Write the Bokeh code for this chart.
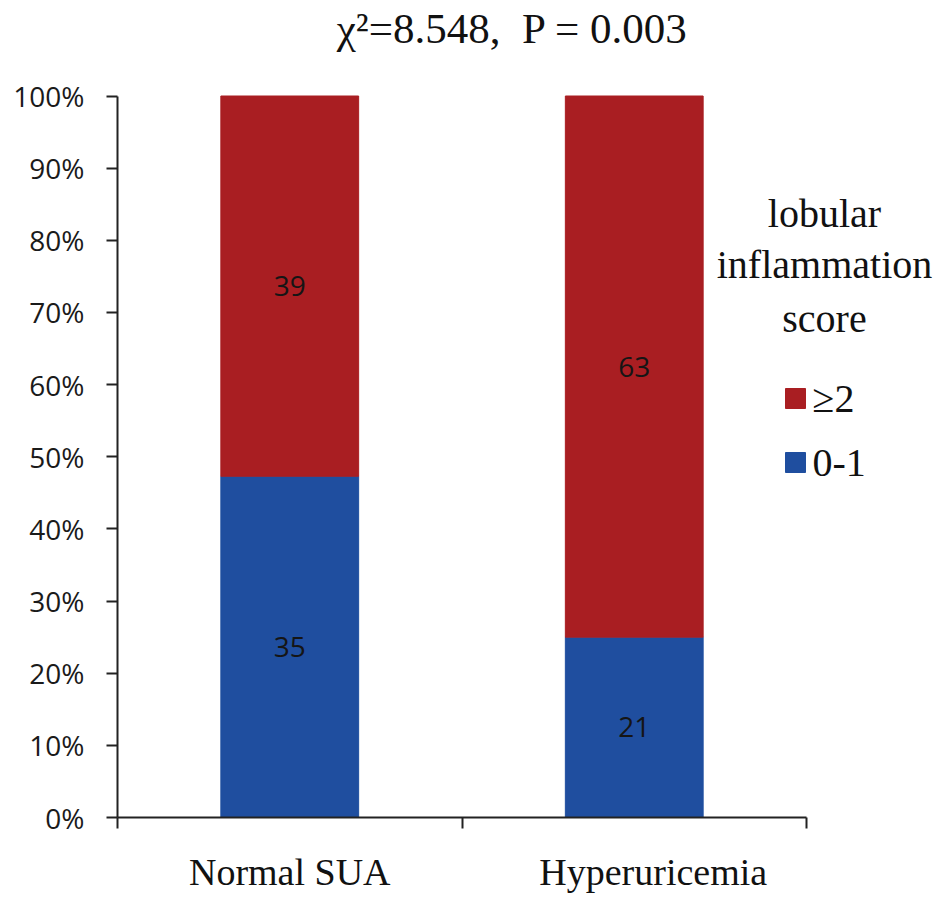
from bokeh.plotting import figure
from bokeh.models import ColumnDataSource, Range1d, FixedTicker, Label
from bokeh.core.properties import value
from bokeh.embed import file_html
from bokeh.resources import INLINE

# ---- data ----
groups = ["Normal SUA", "Hyperuricemia"]
score_low = [35, 21]     # lobular inflammation score 0-1
score_high = [39, 63]    # lobular inflammation score >=2
legend_labels = ["\u22652", "0-1"]
legend_title = ["lobular", "inflammation", "score"]
y_ticks = [0.0, 0.1, 0.2, 0.3, 0.4, 0.5, 0.6, 0.7, 0.8, 0.9, 1.0]
y_tick_labels = ["0%", "10%", "20%", "30%", "40%", "50%", "60%", "70%", "80%", "90%", "100%"]
title_text = "\u03c7\u00b2=8.548,\u00a0\u00a0P = 0.003"

RED = "#A91E22"
BLUE = "#1F4E9F"
SERIF = "Liberation Serif"
SANS = "Open Sans"

totals = [a + b for a, b in zip(score_low, score_high)]
low_frac = [a / t for a, t in zip(score_low, totals)]
high_frac = [b / t for b, t in zip(score_high, totals)]
xs = [i + 0.5 for i in range(len(groups))]

src = ColumnDataSource(dict(x=xs, low=low_frac, high=high_frac))

W, H = 945, 908
FL, FB = 117, 817          # frame left / frame bottom (px)
PX_X, PX_Y = 344.5, 721.5  # px per data unit
LABEL_SHIFT_PX = [0, 19]   # horizontal offset of category labels (px), as in original
p = figure(width=W, height=H, output_backend="svg", toolbar_location=None,
           x_range=Range1d(0, (W - FL) / PX_X), y_range=Range1d(0, FB / PX_Y))
p.min_border = 0
p.min_border_left = FL
p.min_border_right = 0
p.min_border_top = 0
p.min_border_bottom = H - FB
p.outline_line_color = None
p.xgrid.visible = False
p.ygrid.visible = False
p.background_fill_color = "white"
p.border_fill_color = "white"

p.vbar_stack(["low", "high"], x="x", width=0.4, source=src,
             fill_color=[BLUE, RED], line_color=[BLUE, RED], line_width=1)

# bar value labels at segment midpoints
lab_x, lab_y, lab_t = [], [], []
for x, lo, hi, nl, nh in zip(xs, low_frac, high_frac, score_low, score_high):
    lab_x += [x, x]
    lab_y += [lo / 2, lo + hi / 2]
    lab_t += [str(nl), str(nh)]
p.text(x=lab_x, y=lab_y, text=lab_t, text_align="center", text_baseline="middle",
       text_font=value(SANS), text_font_size="28px", text_color="#151515")

# axes
label_ticks = [x + s / PX_X for x, s in zip(xs, LABEL_SHIFT_PX)]
xa = p.xaxis[0]
xa.bounds = (0, 2)
xa.ticker = FixedTicker(ticks=label_ticks, minor_ticks=[0, 1, 2])
xa.major_label_overrides = {t: g for t, g in zip(label_ticks, groups)}
xa.major_tick_out = 0
xa.major_tick_in = 0
xa.minor_tick_out = 11
xa.minor_tick_in = 0
xa.minor_tick_line_width = 2
xa.minor_tick_line_color = "#222222"
xa.axis_line_width = 2
xa.axis_line_color = "#222222"
xa.major_label_text_font = SERIF
xa.major_label_text_font_size = "38px"
xa.major_label_text_color = "#111111"
xa.major_label_standoff = 22

ya = p.yaxis[0]
ya.bounds = (0, 1)
ya.ticker = FixedTicker(ticks=y_ticks, minor_ticks=[])
ya.major_label_overrides = {t: l for t, l in zip(y_ticks, y_tick_labels)}
ya.major_tick_out = 11
ya.major_tick_in = 0
ya.major_tick_line_width = 2
ya.major_tick_line_color = "#222222"
ya.axis_line_width = 2
ya.axis_line_color = "#222222"
ya.major_label_text_font = SANS
ya.major_label_text_font_size = "28px"
ya.major_label_text_color = "#1a1a1a"
ya.major_label_standoff = 22

# pixel -> data helpers for layout of annotations
def dx(px):
    return (px - FL) / PX_X

def dy(py):
    return (FB - py) / PX_Y

# title
p.add_layout(Label(x=dx(512), y=dy(28), text=title_text, text_align="center",
                   text_baseline="middle", text_font=SERIF, text_font_size="43px",
                   text_color="#111111"))

# legend title (3 lines)
p.text(x=[dx(824)] * 3, y=[dy(213), dy(264), dy(318)], text=legend_title,
       text_align="center", text_baseline="middle", text_font=value(SERIF),
       text_font_size="40px", text_color="#111111")

# legend items
leg_colors = [RED, BLUE]
leg_py = [398, 462]
p.scatter(x=[dx(795)] * 2, y=[dy(v) for v in leg_py], marker="square", size=20,
          fill_color=leg_colors, line_color=leg_colors)
p.text(x=[dx(812)] * 2, y=[dy(v) for v in leg_py], text=legend_labels,
       text_align="left", text_baseline="middle", text_font=value(SERIF),
       text_font_size="40px", text_color="#111111")

open("out.html", "w").write(file_html(p, INLINE))
